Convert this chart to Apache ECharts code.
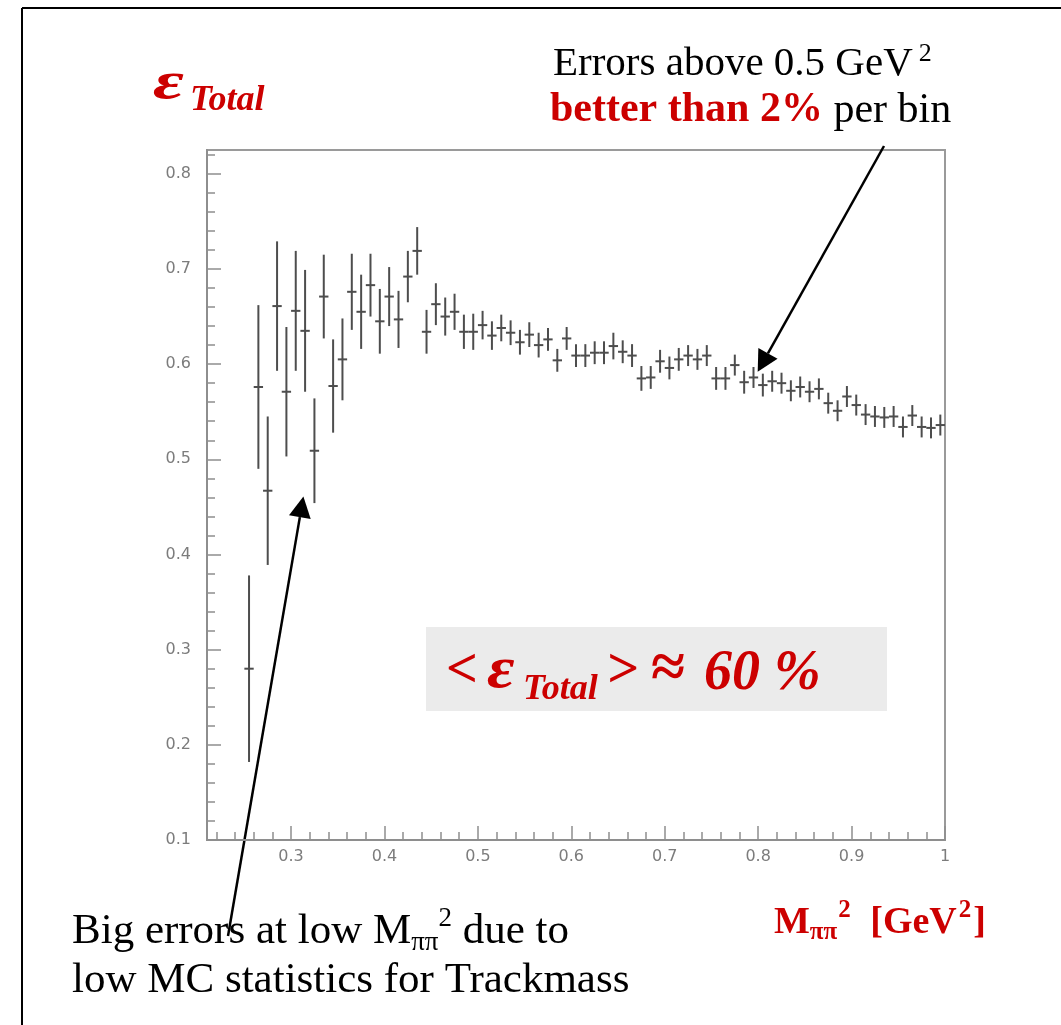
<!DOCTYPE html>
<html>
<head>
<meta charset="utf-8">
<title>Total efficiency vs M_pipi^2</title>
<script src="https://cdn.jsdelivr.net/npm/echarts@6/dist/echarts.min.js"></script>
<style>
  html, body { margin: 0; padding: 0; background: #ffffff; }
  #chart { width: 1061px; height: 1025px; }
</style>
</head>
<body>
<div id="chart"></div>
<script>
// Bin centres of M_pipi^2 [GeV^2] (bin width 0.01)
const massBins = [
  0.255, 0.265, 0.275, 0.285, 0.295, 0.305, 0.315, 0.325, 0.335, 0.345,
  0.355, 0.365, 0.375, 0.385, 0.395, 0.405, 0.415, 0.425, 0.435, 0.445,
  0.455, 0.465, 0.475, 0.485, 0.495, 0.505, 0.515, 0.525, 0.535, 0.545,
  0.555, 0.565, 0.575, 0.585, 0.595, 0.605, 0.615, 0.625, 0.635, 0.645,
  0.655, 0.665, 0.675, 0.685, 0.695, 0.705, 0.715, 0.725, 0.735, 0.745,
  0.755, 0.765, 0.775, 0.785, 0.795, 0.805, 0.815, 0.825, 0.835, 0.845,
  0.855, 0.865, 0.875, 0.885, 0.895, 0.905, 0.915, 0.925, 0.935, 0.945,
  0.955, 0.965, 0.975, 0.985, 0.995
];

// Total efficiency per bin
const efficiency = [
  0.280, 0.576, 0.467, 0.661, 0.571, 0.656, 0.635, 0.509, 0.671, 0.577,
  0.605, 0.676, 0.655, 0.683, 0.645, 0.671, 0.647, 0.692, 0.719, 0.634,
  0.663, 0.650, 0.655, 0.634, 0.634, 0.641, 0.630, 0.638, 0.633, 0.623,
  0.631, 0.620, 0.626, 0.604, 0.627, 0.609, 0.609, 0.612, 0.612, 0.619,
  0.613, 0.609, 0.585, 0.586, 0.603, 0.596, 0.605, 0.609, 0.605, 0.609,
  0.585, 0.585, 0.599, 0.581, 0.586, 0.578, 0.582, 0.580, 0.572, 0.576,
  0.571, 0.574, 0.559, 0.551, 0.566, 0.557, 0.547, 0.545, 0.544, 0.545,
  0.534, 0.546, 0.534, 0.533, 0.536
];

// Statistical error per bin
const efficiencyErr = [
  0.098, 0.086, 0.078, 0.068, 0.068, 0.063, 0.064, 0.055, 0.044, 0.049,
  0.043, 0.040, 0.039, 0.033, 0.034, 0.031, 0.030, 0.027, 0.025, 0.023,
  0.022, 0.020, 0.019, 0.018, 0.019, 0.015, 0.015, 0.014, 0.013, 0.013,
  0.013, 0.013, 0.012, 0.012, 0.012, 0.012, 0.012, 0.012, 0.012, 0.014,
  0.012, 0.012, 0.013, 0.012, 0.012, 0.012, 0.012, 0.011, 0.011, 0.011,
  0.012, 0.012, 0.011, 0.012, 0.011, 0.012, 0.011, 0.011, 0.011, 0.011,
  0.011, 0.011, 0.011, 0.011, 0.011, 0.011, 0.011, 0.011, 0.011, 0.011,
  0.011, 0.011, 0.011, 0.011, 0.011
];

const binHalfWidth = 0.005;

// Axis ticks and their labels
const xMajorTicks = [0.3, 0.4, 0.5, 0.6, 0.7, 0.8, 0.9, 1.0];
const xTickLabels = ['0.3', '0.4', '0.5', '0.6', '0.7', '0.8', '0.9', '1'];
const xMinorTicks = [
  0.22, 0.24, 0.26, 0.28, 0.32, 0.34, 0.36, 0.38, 0.42, 0.44, 0.46, 0.48,
  0.52, 0.54, 0.56, 0.58, 0.62, 0.64, 0.66, 0.68, 0.72, 0.74, 0.76, 0.78,
  0.82, 0.84, 0.86, 0.88, 0.92, 0.94, 0.96, 0.98
];
const yMajorTicks = [0.1, 0.2, 0.3, 0.4, 0.5, 0.6, 0.7, 0.8];
const yTickLabels = ['0.1', '0.2', '0.3', '0.4', '0.5', '0.6', '0.7', '0.8'];
const yMinorTicks = [
  0.12, 0.14, 0.16, 0.18, 0.22, 0.24, 0.26, 0.28, 0.32, 0.34, 0.36, 0.38,
  0.42, 0.44, 0.46, 0.48, 0.52, 0.54, 0.56, 0.58, 0.62, 0.64, 0.66, 0.68,
  0.72, 0.74, 0.76, 0.78, 0.82
];

const xRange = [0.21, 1.0];
const yRange = [0.1, 0.825];

const axisGray = '#8e8e8e';
const labelGray = '#7c7c7c';
const markColor = '#4d4d4d';
const red = '#cc0000';

function labelFrom(ticks, labels) {
  return function (v) {
    for (let i = 0; i < ticks.length; i++) {
      if (Math.abs(ticks[i] - v) < 1e-6) return labels[i];
    }
    return '';
  };
}

function renderErrorCross(params, api) {
  const x = api.value(0);
  const y = api.value(1);
  const e = api.value(2);
  const top = api.coord([x, y + e]);
  const bottom = api.coord([x, y - e]);
  const left = api.coord([x - binHalfWidth, y]);
  const right = api.coord([x + binHalfWidth, y]);
  const style = { stroke: markColor, lineWidth: 2 };
  return {
    type: 'group',
    children: [
      { type: 'line', shape: { x1: top[0], y1: top[1], x2: bottom[0], y2: bottom[1] }, style: style },
      { type: 'line', shape: { x1: left[0], y1: left[1], x2: right[0], y2: right[1] }, style: style }
    ]
  };
}

const chart = echarts.init(document.getElementById('chart'), null, { renderer: 'canvas' });

const points = massBins.map((m, i) => [m, efficiency[i], efficiencyErr[i]]);

const tickFont = { color: labelGray, fontSize: 16, fontFamily: 'DejaVu Sans' };

chart.setOption({
  animation: false,
  backgroundColor: '#ffffff',
  grid: {
    left: 207, top: 150, right: 116, bottom: 185,
    show: true, borderColor: '#9a9a9a', borderWidth: 2, backgroundColor: 'transparent'
  },
  xAxis: [
    {
      type: 'value', min: xRange[0], max: xRange[1], position: 'bottom',
      axisLine: { show: true, lineStyle: { color: axisGray, width: 2 } },
      axisTick: { show: true, inside: true, length: 14, customValues: xMajorTicks,
        lineStyle: { color: axisGray, width: 1.5 } },
      axisLabel: Object.assign({ show: true, customValues: xMajorTicks, margin: 9,
        formatter: labelFrom(xMajorTicks, xTickLabels) }, tickFont),
      splitLine: { show: false }
    },
    {
      type: 'value', min: xRange[0], max: xRange[1], position: 'bottom',
      axisLine: { show: false },
      axisTick: { show: true, inside: true, length: 8, customValues: xMinorTicks,
        lineStyle: { color: axisGray, width: 1.5 } },
      axisLabel: { show: false },
      splitLine: { show: false }
    }
  ],
  yAxis: [
    {
      type: 'value', min: yRange[0], max: yRange[1], position: 'left',
      axisLine: { show: true, lineStyle: { color: axisGray, width: 2 } },
      axisTick: { show: true, inside: true, length: 14, customValues: yMajorTicks,
        lineStyle: { color: axisGray, width: 1.5 } },
      axisLabel: Object.assign({ show: true, customValues: yMajorTicks, margin: 16,
        formatter: labelFrom(yMajorTicks, yTickLabels) }, tickFont),
      splitLine: { show: false }
    },
    {
      type: 'value', min: yRange[0], max: yRange[1], position: 'left',
      axisLine: { show: false },
      axisTick: { show: true, inside: true, length: 8, customValues: yMinorTicks,
        lineStyle: { color: axisGray, width: 1.5 } },
      axisLabel: { show: false },
      splitLine: { show: false }
    }
  ],
  series: [
    {
      type: 'custom',
      name: 'efficiency',
      xAxisIndex: 0,
      yAxisIndex: 0,
      data: points,
      encode: { x: 0, y: 1 },
      renderItem: renderErrorCross,
      silent: true
    }
  ]
});

// ---- annotations ----
const measureCtx = document.createElement('canvas').getContext('2d');

function fontOf(p) {
  return (p.italic ? 'italic ' : '') + (p.bold ? 'bold ' : '') + p.size + 'px "Liberation Serif"';
}

// Lay out a run of text pieces side by side on a common baseline.
function textRun(x, baseline, pieces) {
  const out = [];
  let cx = x;
  pieces.forEach(function (p) {
    const font = fontOf(p);
    const sx = p.scaleX || 1;
    measureCtx.font = font;
    cx += (p.dx || 0);
    out.push({
      type: 'text',
      x: cx,
      y: baseline + (p.dy || 0) - 0.32 * p.size,
      scaleX: sx,
      style: { text: p.text, font: font, fill: p.color || '#000000', align: 'left', verticalAlign: 'middle' }
    });
    cx += measureCtx.measureText(p.text).width * sx;
  });
  return out;
}

function arrow(tail, tip, headLen, halfW) {
  const dx = tip[0] - tail[0];
  const dy = tip[1] - tail[1];
  const len = Math.sqrt(dx * dx + dy * dy);
  const ux = dx / len, uy = dy / len;
  const bx = tip[0] - ux * headLen, by = tip[1] - uy * headLen;
  return [
    { type: 'line', shape: { x1: tail[0], y1: tail[1], x2: bx, y2: by },
      style: { stroke: '#000000', lineWidth: 2.5 } },
    { type: 'polygon', shape: { points: [tip, [bx - uy * halfW, by + ux * halfW], [bx + uy * halfW, by - ux * halfW]] },
      style: { fill: '#000000' } }
  ];
}

const tipHighMass = chart.convertToPixel({ xAxisIndex: 0, yAxisIndex: 0 }, [0.7995, 0.592]);
const tipLowMass = chart.convertToPixel({ xAxisIndex: 0, yAxisIndex: 0 }, [0.3132, 0.461]);

let elements = [];

// page frame
elements.push({ type: 'line', shape: { x1: 22, y1: 8, x2: 22, y2: 1025 }, style: { stroke: '#000', lineWidth: 2 } });
elements.push({ type: 'line', shape: { x1: 22, y1: 8, x2: 1061, y2: 8 }, style: { stroke: '#000', lineWidth: 2 } });

// y title
elements = elements.concat(textRun(153, 101, [
  { text: 'ε', size: 52, italic: true, bold: true, color: red, scaleX: 1.45 },
  { text: 'Total', size: 36, italic: true, bold: true, color: red, dx: 6, dy: 11 }
]));

// top-right note
elements = elements.concat(textRun(553, 77, [
  { text: 'Errors above 0.5 GeV', size: 41 },
  { text: '2', size: 26, dx: 6, dy: -15 }
]));
elements = elements.concat(textRun(550, 124, [
  { text: 'better than 2%', size: 42, bold: true, color: red },
  { text: ' per bin', size: 42 }
]));

// mean efficiency box
elements.push({ type: 'rect', shape: { x: 426, y: 627, width: 461, height: 84 }, style: { fill: '#ebebeb' } });
elements = elements.concat(textRun(446, 690, [{ text: '<', size: 56, italic: true, bold: true, color: red }]));
elements = elements.concat(textRun(487, 691, [{ text: 'ε', size: 60, italic: true, bold: true, color: red, scaleX: 1.12 }]));
elements = elements.concat(textRun(523, 701, [{ text: 'Total', size: 36, italic: true, bold: true, color: red }]));
elements = elements.concat(textRun(606, 690, [{ text: '>', size: 56, italic: true, bold: true, color: red }]));
elements = elements.concat(textRun(651, 691, [{ text: '≈', size: 62, bold: true, color: red }]));
elements = elements.concat(textRun(704, 692, [{ text: '60 %', size: 56, italic: true, bold: true, color: red }]));

// x title
elements = elements.concat(textRun(774, 935, [
  { text: 'M', size: 38, bold: true, color: red },
  { text: 'ππ', size: 25, bold: true, color: red, dy: 6 },
  { text: '2', size: 25, bold: true, color: red, dx: 1, dy: -16 },
  { text: ' [GeV', size: 38, bold: true, color: red, dx: 10 },
  { text: '2', size: 25, bold: true, color: red, dx: 2, dy: -16 },
  { text: ']', size: 38, bold: true, color: red, dx: 2 }
]));

// bottom-left note
elements = elements.concat(textRun(72, 945, [
  { text: 'Big errors at low M', size: 43 },
  { text: 'ππ', size: 27, dy: 7 },
  { text: '2', size: 27, dy: -17 },
  { text: ' due to', size: 43 }
]));
elements = elements.concat(textRun(72, 994, [
  { text: 'low MC statistics for Trackmass', size: 43 }
]));

// arrows
elements = elements.concat(arrow([884, 146], tipHighMass, 21, 11));
elements = elements.concat(arrow([228, 936], tipLowMass, 21, 11));

chart.setOption({ graphic: { elements: elements } });
</script>
</body>
</html>
